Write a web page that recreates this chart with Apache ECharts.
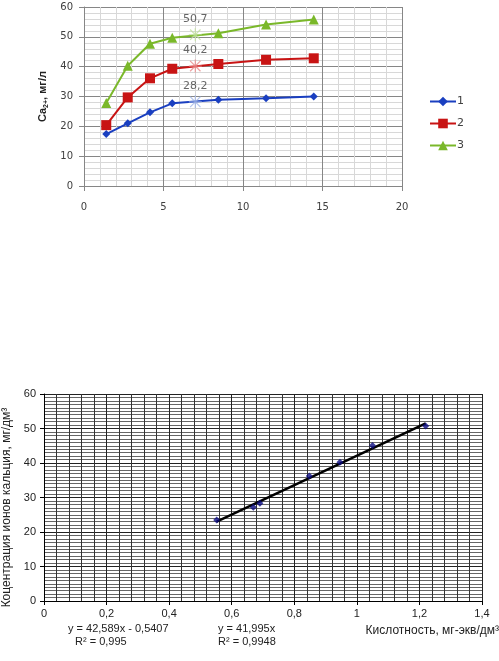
<!DOCTYPE html>
<html><head><meta charset="utf-8">
<script src="https://cdn.jsdelivr.net/npm/echarts@6/dist/echarts.min.js"></script>
<style>html,body{margin:0;padding:0;background:#fff}#c{width:499px;height:661px}</style>
</head><body><div id="c"></div>
<script>
// ---- top chart data ----
var topX = [1.4, 2.75, 4.15, 5.55, 8.45, 11.45, 14.45];
var s1 = [17.4, 21.0, 24.7, 27.7, 28.9, 29.4, 30.0];
var s2 = [20.4, 29.7, 36.1, 39.3, 40.9, 42.3, 42.8];
var s3 = [27.8, 40.3, 47.7, 49.7, 51.2, 54.1, 55.8];
var seriesNames = ['1', '2', '3'];
var starX = 7;
var starY = [28.2, 40.2, 50.7];
// ---- bottom chart data ----
var acidX = [0.552, 0.669, 0.690, 0.848, 0.946, 1.050, 1.220];
var caY = [23.5, 27.2, 28.3, 36.2, 40.2, 45.1, 50.7];
var eq1 = ['y = 42,589x - 0,5407', 'R² = 0,995'];
var eq2 = ['y = 41,995x', 'R² = 0,9948'];

var colors = ['#1a3fc0', '#c81414', '#7ab82a'];
var starColors = ['#9fb4e6', '#e88a8a', '#bfe09a'];
var symbols = ['diamond', 'rect', 'triangle'];
var symSizes = [8, 10, 10];

function zip(xs, ys) { return xs.map(function (x, i) { return [x, ys[i]]; }); }
function comma(v) { return String(v).replace('.', ','); }

// least-squares trend line
var n = acidX.length, sx = 0, sy = 0, sxx = 0, sxy = 0;
for (var i = 0; i < n; i++) { sx += acidX[i]; sy += caY[i]; sxx += acidX[i] * acidX[i]; sxy += acidX[i] * caY[i]; }
var slope = (n * sxy - sx * sy) / (n * sxx - sx * sx);
var icpt = (sy - slope * sx) / n;
var xmin = Math.min.apply(null, acidX), xmax = Math.max.apply(null, acidX);
var trend = [[xmin, slope * xmin + icpt], [xmax, slope * xmax + icpt]];

var starPath = 'path://M0,-10L0,10M-8,-8L8,8M-8,8L8,-8M-10,0L10,0';

var series = [];
[s1, s2, s3].forEach(function (d, k) {
  series.push({
    name: seriesNames[k], type: 'line', xAxisIndex: 0, yAxisIndex: 0,
    data: zip(topX, d), symbol: symbols[k], symbolSize: symSizes[k],
    lineStyle: { color: colors[k], width: 2 }, itemStyle: { color: colors[k] },
    z: 3
  });
});
starY.forEach(function (v, k) {
  series.push({
    type: 'scatter', xAxisIndex: 0, yAxisIndex: 0,
    data: [[starX, v]], symbol: starPath, symbolSize: 13,
    itemStyle: { color: 'rgba(0,0,0,0)', borderColor: starColors[k], borderWidth: 1.2 },
    label: { show: true, position: 'top', distance: 3, formatter: function (p) { return comma(p.value[1]); },
      color: '#404040', fontSize: 11, fontFamily: 'DejaVu Sans' },
    z: 4
  });
});
series.push({
  type: 'line', xAxisIndex: 1, yAxisIndex: 1, data: trend, symbol: 'none',
  lineStyle: { color: '#000', width: 2.5 }, z: 3
});
series.push({
  type: 'scatter', xAxisIndex: 1, yAxisIndex: 1, data: zip(acidX, caY),
  symbol: 'diamond', symbolSize: 7, itemStyle: { color: '#0a0a80' }, z: 4
});

var chart = echarts.init(document.getElementById('c'), null, { renderer: 'canvas' });
chart.setOption({
  animation: false,
  backgroundColor: '#fff',
  grid: [
    { left: 84, top: 7, width: 318, height: 179, containLabel: false, outerBoundsMode: 'none' },
    { left: 44, top: 394, width: 438, height: 207, containLabel: false, outerBoundsMode: 'none' }
  ],
  legend: {
    data: seriesNames, orient: 'vertical', left: 424, top: 91, itemGap: 11,
    itemWidth: 26, itemHeight: 12,
    textStyle: { fontFamily: 'DejaVu Sans', fontSize: 11, color: '#404040', padding: [0, 0, 0, -4] }
  },
  xAxis: [
    { gridIndex: 0, type: 'value', min: 0, max: 20, interval: 5,
      axisLine: { show: true, lineStyle: { color: '#868686' } },
      axisTick: { show: true, length: 5, lineStyle: { color: '#868686' } },
      axisLabel: { color: '#404040', fontSize: 10, fontFamily: 'DejaVu Sans', margin: 16 },
      splitLine: { show: true, lineStyle: { color: '#868686', width: 1 } },
      minorTick: { show: false, splitNumber: 5 },
      minorSplitLine: { show: true, lineStyle: { color: '#d8d8d8', width: 1 } } },
    { gridIndex: 1, type: 'value', min: 0, max: 1.4, interval: 0.2,
      axisLine: { show: true, lineStyle: { color: '#000' } },
      axisTick: { show: true, length: 4, lineStyle: { color: '#000' } },
      axisLabel: { color: '#222', fontSize: 11, fontFamily: 'Liberation Sans', margin: 7,
        formatter: function (v) { return comma(Math.round(v * 10) / 10); } },
      splitLine: { show: true, lineStyle: { color: '#222', width: 1 } },
      minorTick: { show: false, splitNumber: 5 },
      minorSplitLine: { show: true, lineStyle: { color: '#333', width: 1 } } }
  ],
  yAxis: [
    { gridIndex: 0, type: 'value', min: 0, max: 60, interval: 10,
      name: '{b|Ca}{s|2+}{b|, мг/л}', nameLocation: 'middle', nameGap: 34,
      nameTextStyle: { rich: {
        b: { fontFamily: 'Liberation Sans', fontWeight: 'bold', fontSize: 11, color: '#222' },
        s: { fontFamily: 'Liberation Sans', fontWeight: 'bold', fontSize: 7, color: '#222', padding: [6, 0, 0, 0] } } },
      axisLine: { show: true, lineStyle: { color: '#868686' } },
      axisTick: { show: true, length: 5, lineStyle: { color: '#868686' } },
      axisLabel: { color: '#404040', fontSize: 10, fontFamily: 'DejaVu Sans', margin: 11 },
      splitLine: { show: true, lineStyle: { color: '#868686', width: 1 } },
      minorTick: { show: false, splitNumber: 5 },
      minorSplitLine: { show: true, lineStyle: { color: '#d8d8d8', width: 1 } } },
    { gridIndex: 1, type: 'value', min: 0, max: 60, interval: 10,
      name: 'Коцентрация ионов кальция, мг/дм³', nameLocation: 'middle', nameGap: 19,
      nameTextStyle: { fontFamily: 'Liberation Sans', fontSize: 12, color: '#222', padding: [0, 20, 0, 0] },
      axisLine: { show: true, lineStyle: { color: '#000' } },
      axisTick: { show: true, length: 4, lineStyle: { color: '#000' } },
      axisLabel: { color: '#222', fontSize: 11, fontFamily: 'Liberation Sans', margin: 8 },
      splitLine: { show: true, lineStyle: { color: '#222', width: 1 } },
      minorTick: { show: false, splitNumber: 10 },
      minorSplitLine: { show: true, lineStyle: { color: '#666', width: 1 } } }
  ],
  graphic: [
    { type: 'text', right: 0, top: 625, style: { text: 'Кислотность, мг-экв/дм³', font: '12px "Liberation Sans"', fill: '#222' } },
    { type: 'text', left: 68, top: 623, style: { text: eq1[0], font: '11px "Liberation Sans"', fill: '#222' } },
    { type: 'text', left: 75, top: 636, style: { text: eq1[1], font: '11px "Liberation Sans"', fill: '#222' } },
    { type: 'text', left: 218, top: 623, style: { text: eq2[0], font: '11px "Liberation Sans"', fill: '#222' } },
    { type: 'text', left: 218, top: 636, style: { text: eq2[1], font: '11px "Liberation Sans"', fill: '#222' } }
  ],
  series: series
});
</script></body></html>
